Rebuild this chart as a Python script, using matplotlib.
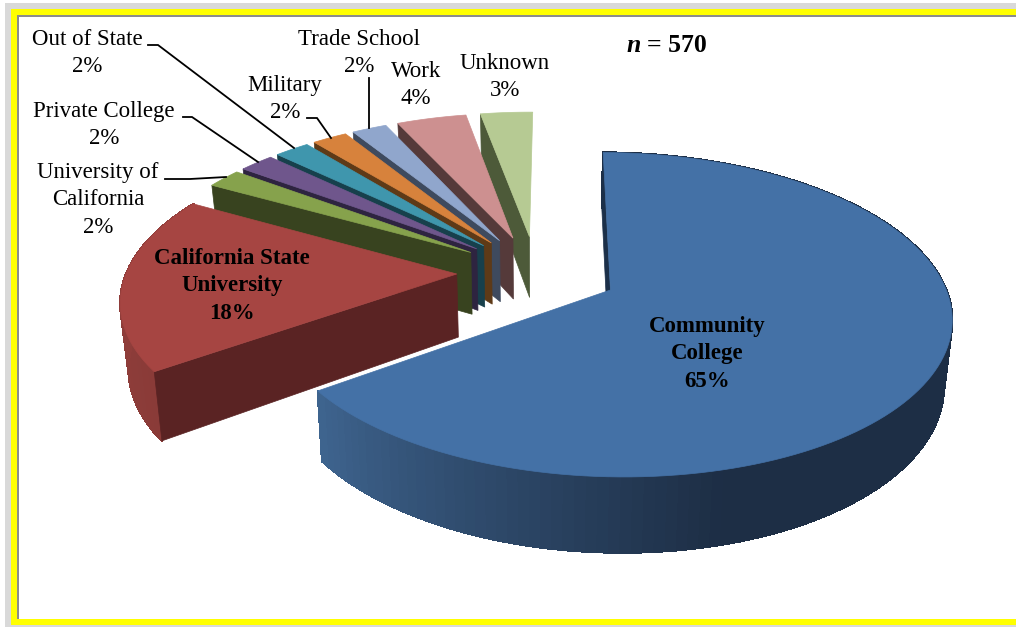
import numpy as np
import matplotlib
matplotlib.use("Agg")
import matplotlib.pyplot as plt
from matplotlib.collections import PolyCollection
from matplotlib.patches import Rectangle

# survey results, clockwise from 12 o'clock
categories = ["Community\nCollege", "California State\nUniversity", "University of\nCalifornia",
              "Private College", "Out of State", "Military", "Trade School", "Work", "Unknown"]
percents = [65, 18, 2, 2, 2, 2, 2, 4, 3]

top_colors = ["#4471a6", "#a64542", "#86a24c", "#6f568c", "#3f96ad", "#d7823c", "#90a6cc", "#cd9090", "#b6ca93"]
wall_colors = ["#1c3049", "#5a2323", "#38431f", "#2e2440", "#17404c", "#5e3a17", "#3e4a5e", "#553a3a", "#4d5a39"]
rim_left = ["#3f6590", "#95403d"]
rim_right = ["#1d2e45", "#8a3b38"]
explode = [0.25, 0.24, 0.24, 0.24, 0.24, 0.24, 0.24, 0.24, 0.24]

# label centre x and first baseline in pixels
label_pos = [(707, 332), (232, 264), (98, 178), (104, 117), (87, 45), (285, 91), (359, 45), (416, 77), (505, 69)]
label_bold = [True, True, False, False, False, False, False, False, False]
LINE_STEP = 27.4

# leader line paths, None where the label has no leader
leaders = [None, None,
           [(165, 179), (190, 179), (226, 177)],
           [(183, 117), (192, 117), (258, 162)],
           [(148, 45), (158, 45), (294, 148)],
           [(307, 118), (317, 118), (331, 138)],
           [(369, 78), (369, 128)],
           None, None]

CX, CY = 536, 272
RX, RY = 330, 153
PERSP = 0.15
DEPTH = 63
START_ANGLE = 0.5


def project(u, v, lower=False):
    u = np.asarray(u, dtype=float)
    v = np.asarray(v, dtype=float)
    w = 1 + PERSP * v
    x = RX * u / w
    y = CY - RY * v / w
    if lower:
        return CX + x * 0.98, y + DEPTH / w
    return CX + x, y


def quad_strip(x0, y0, x1, y1):
    return [[(x0[i], y0[i]), (x0[i + 1], y0[i + 1]), (x1[i + 1], y1[i + 1]), (x1[i], y1[i])]
            for i in range(len(x0) - 1)]


fig = plt.figure(figsize=(10.16, 6.27), dpi=100)
ax = fig.add_axes([0, 0, 1, 1])
ax.set_xlim(0, 1016)
ax.set_ylim(627, 0)
ax.axis("off")

# frame: grey shadow, yellow band, thin grey line
ax.add_patch(Rectangle((5, 3), 1011, 624, fc="#d9d9d9", ec="none"))
ax.add_patch(Rectangle((11, 9), 1005, 616, fc="#ffff00", ec="none"))
ax.add_patch(Rectangle((17, 15), 999, 604, fc="#8c8c8c", ec="none"))
ax.add_patch(Rectangle((19, 17), 997, 602, fc="white", ec="none"))

angles = np.cumsum([0] + percents) * 3.6 + START_ANGLE

# back slices first, the large blue slice last
for i in [8, 7, 6, 5, 4, 3, 2, 1, 0]:
    a0, a1 = np.radians(angles[i]), np.radians(angles[i + 1])
    mid = (a0 + a1) / 2
    au, av = explode[i] * np.sin(mid), explode[i] * np.cos(mid)
    t = np.linspace(a0, a1, 140)
    eu, ev = au + np.sin(t), av + np.cos(t)

    edge_x, edge_y = project(eu, ev)
    low_x, low_y = project(eu, ev, lower=True)

    # outer rim, only the two big slices show one; blue goes flat dark past the front
    if i < 2:
        if i == 0:
            fade = np.clip((a1 - t[:-1]) / (a1 - np.radians(165)), 0, 1)
        else:
            fade = (a1 - t[:-1]) / (a1 - a0)
        c0 = np.array(matplotlib.colors.to_rgb(rim_left[i]))
        c1 = np.array(matplotlib.colors.to_rgb(rim_right[i]))
        rim_cols = [tuple(c0 + (c1 - c0) * f) for f in fade]
        ax.add_collection(PolyCollection(quad_strip(edge_x, edge_y, low_x, low_y),
                                         facecolors=rim_cols, edgecolors=rim_cols, linewidths=1.0,
                                         antialiaseds=False))

    # radial wall on the starting edge
    px_t, py_t = project([au, eu[0]], [av, ev[0]])
    px_l, py_l = project([au, eu[0]], [av, ev[0]], lower=True)
    ax.fill([px_t[0], px_t[1], px_l[1], px_l[0]], [py_t[0], py_t[1], py_l[1], py_l[0]],
            fc=wall_colors[i], ec=wall_colors[i], lw=0.5)

    # top surface
    apex_x, apex_y = project(au, av)
    ax.fill(np.r_[apex_x, edge_x], np.r_[apex_y, edge_y], fc=top_colors[i], ec=top_colors[i], lw=0.5)

# labels, one text per line
for i, name in enumerate(categories):
    lines = name.split("\n") + [f"{percents[i]}%"]
    for k, line in enumerate(lines):
        ax.text(label_pos[i][0], label_pos[i][1] + k * LINE_STEP, line, ha="center", va="baseline",
                family="Liberation Serif", fontsize=16.5,
                fontweight="bold" if label_bold[i] else "normal", color="black")

# leader lines
for path in leaders:
    if path is None:
        continue
    ax.plot([p[0] for p in path], [p[1] for p in path], color="black", lw=1.3, solid_joinstyle="miter")

ax.text(626, 52, "n", family="Liberation Serif", fontsize=18.5, fontweight="bold", style="italic", va="baseline")
ax.text(647, 52, "= 570", family="Liberation Serif", fontsize=18.5, fontweight="bold", va="baseline")

fig.savefig("out.png", dpi=100)
